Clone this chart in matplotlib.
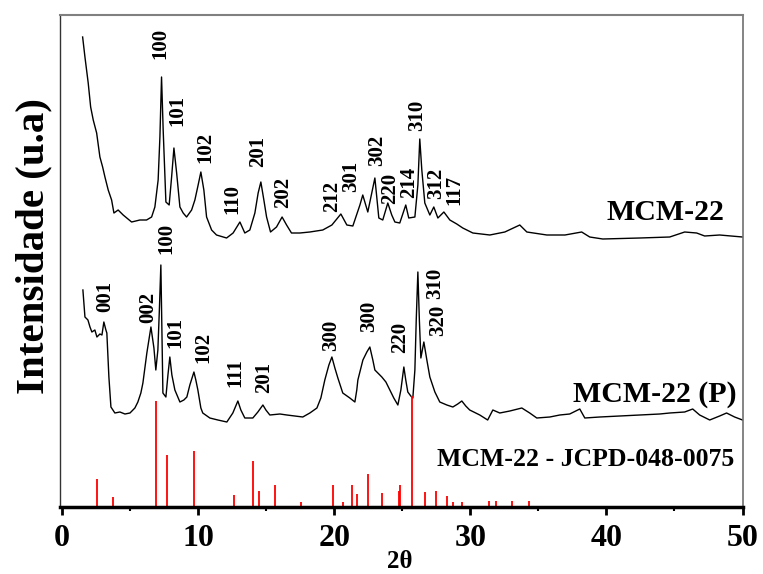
import matplotlib
matplotlib.use("Agg")
import matplotlib.pyplot as plt
from matplotlib.ticker import MultipleLocator

plt.rcParams['font.family'] = ['Liberation Serif', 'DejaVu Serif']
plt.rcParams['font.weight'] = 'bold'

# MCM-22 pattern (2theta, intensity a.u.)
top_2theta = [1.50, 1.67, 1.91, 2.09, 2.28, 2.53, 2.77, 2.97, 3.14, 3.38, 3.63, 3.80, 4.11, 4.48,
              5.10, 5.71, 6.20, 6.57, 6.81, 7.05, 7.18, 7.30, 7.42, 7.62, 7.86, 8.04, 8.21, 8.41,
              8.65, 8.89, 9.14, 9.51, 9.75, 9.99, 10.19, 10.41, 10.61, 10.98, 11.34, 12.08, 12.56,
              13.06, 13.42, 13.79, 14.16, 14.40, 14.60, 14.82, 15.02, 15.31, 15.75, 16.16, 16.49,
              16.85, 17.47, 18.20, 19.15, 19.82, 20.48, 20.92, 21.36, 21.88, 22.09, 22.46, 22.98,
              23.27, 23.56, 23.93, 24.22, 24.45, 24.81, 25.25, 25.47, 25.92, 26.14, 26.28, 26.43,
              26.65, 27.02, 27.31, 27.61, 28.05, 28.49, 29.00, 29.44, 30.18, 31.43, 32.53, 33.63,
              34.15, 35.62, 36.95, 38.18, 38.77, 39.73, 42.45, 44.65, 45.75, 46.63, 47.22, 48.32, 50.0]
top_int = [470, 450, 424, 400, 387, 374, 350, 340, 330, 317, 307, 294, 297, 292,
           285, 287, 287, 290, 300, 327, 370, 430, 377, 305, 302, 330, 359, 334,
           300, 294, 290, 297, 307, 322, 335, 317, 290, 277, 272, 269, 274,
           285, 274, 277, 294, 314, 325, 307, 290, 275, 280, 290, 282,
           274, 274, 275, 277, 282, 293, 282, 281, 302, 312, 295, 329,
           289, 287, 304, 292, 285, 284, 302, 289, 290, 322, 368, 337,
           304, 292, 300, 289, 295, 287, 283, 279, 274, 272, 275, 282,
           275, 272, 272, 275, 270, 268, 269, 270, 275, 274, 271, 272, 270]

# MCM-22 (P) pattern
bot_2theta = [1.52, 1.67, 1.89, 2.04, 2.18, 2.40, 2.55, 2.77, 2.92, 3.06, 3.21, 3.28, 3.43, 3.58,
              3.87, 4.24, 4.61, 4.98, 5.34, 5.56, 5.78, 5.93, 6.22, 6.52, 6.74, 6.88, 7.03, 7.14,
              7.25, 7.33, 7.40, 7.62, 7.77, 7.91, 8.06, 8.28, 8.65, 8.94, 9.16, 9.38, 9.68, 9.82,
              9.97, 10.19, 10.33, 10.85, 11.44, 12.10, 12.54, 12.91, 13.13, 13.42, 14.01, 14.38,
              14.75, 14.97, 15.26, 16.00, 16.51, 17.10, 17.68, 18.20, 18.72, 19.01, 19.30, 19.60,
              19.82, 20.04, 20.26, 20.62, 21.14, 21.51, 21.65, 21.73, 22.10, 22.39, 22.61, 22.83,
              22.98, 23.49, 23.79, 24.08, 24.37, 24.67, 24.89, 25.11, 25.25, 25.40, 25.62, 25.77,
              25.92, 26.02, 26.14, 26.25, 26.36, 26.58, 26.80, 27.02, 27.39, 27.75, 28.27, 28.71,
              29.07, 29.37, 29.66, 29.95, 30.69, 31.27, 31.65, 32.16, 32.90, 33.78, 34.36, 34.88,
              35.84, 36.57, 37.30, 38.04, 38.41, 39.51, 40.98, 42.45, 43.92, 44.65, 45.75, 46.34,
              46.85, 47.59, 48.32, 48.83, 49.42, 50.0]
bot_int = [217, 190, 187, 180, 175, 177, 170, 173, 172, 185, 177, 174, 130, 100,
           94, 95, 93, 94, 99, 105, 114, 124, 154, 180, 159, 137, 157, 197,
           242, 177, 114, 110, 132, 150, 132, 117, 105, 107, 110, 122, 135, 127,
           117, 99, 94, 89, 87, 85, 94, 106, 97, 89, 89, 95,
           102, 97, 92, 93, 92, 91, 90, 94, 99, 109, 127, 142,
           150, 139, 129, 114, 109, 105, 117, 127, 147, 155, 160, 147,
           137, 130, 125, 117, 109, 102, 117, 140, 127, 115, 111, 109,
           137, 187, 235, 187, 149, 165, 147, 130, 115, 105, 102, 100,
           103, 106, 101, 97, 92, 87, 97, 94, 96, 99, 94, 89,
           90, 92, 93, 98, 89, 90, 91, 92, 93, 94, 95, 98,
           92, 87, 91, 94, 90, 87]

# Reference JCPD-048-0075 sticks
ref_2theta = [2.55, 3.75, 6.88, 7.68, 9.72, 12.63, 14.05, 14.47, 15.64, 17.55, 19.92, 20.65,
              21.30, 21.66, 22.44, 23.49, 24.72, 24.85, 25.72, 26.65, 27.50, 28.27, 28.73,
              29.42, 31.35, 31.90, 33.09, 34.31]
ref_int = [28, 10, 106, 52, 56, 12, 46, 16, 22, 5, 22, 5,
           22, 13, 33, 14, 16, 22, 111, 15, 16, 11, 5,
           5, 6, 6, 6, 6]

# Peak labels (text, 2theta, height)
top_labels = ["100", "101", "102", "110", "201", "202", "212", "301", "302", "220", "214",
              "310", "312", "117"]
top_lab_x = [7.25, 8.50, 10.49, 12.47, 14.38, 16.22, 19.82, 21.21, 23.13, 24.10, 25.50,
             26.06, 27.46, 28.85]
top_lab_y = [464, 397, 360, 308, 356, 315, 311, 331, 357, 319, 325, 392, 324, 317]

bot_labels = ["001", "002", "100", "101", "102", "111", "201", "300", "300", "220", "310", "320"]
bot_lab_x = [3.14, 6.30, 7.62, 8.28, 10.41, 12.76, 14.82, 19.74, 22.53, 24.81, 27.39, 27.60]
bot_lab_y = [211, 200, 269, 175, 160, 134, 130, 172, 191, 170, 224, 187]

xticks = [0, 10, 20, 30, 40, 50]

fig = plt.figure(figsize=(7.63, 5.74), dpi=100)
W, H = 763, 574
ax = fig.add_axes([59.5 / W, (H - 507) / H, (742.5 - 59.5) / W, (507 - 15) / H])

ax.plot(top_2theta, top_int, color='black', lw=1.0)
ax.plot(bot_2theta, bot_int, color='black', lw=1.0)
ax.vlines(ref_2theta, 0, ref_int, colors='red', lw=1.3)

for t, x, y in zip(top_labels, top_lab_x, top_lab_y):
    ax.text(x, y, t, rotation=90, ha='center', va='center', fontsize=15, fontweight='bold')
for t, x, y in zip(bot_labels, bot_lab_x, bot_lab_y):
    ax.text(x, y, t, rotation=90, ha='center', va='center', fontsize=15, fontweight='bold')

ax.text(48.7, 294, "MCM-22", ha='right', va='center', fontsize=21.5, fontweight='bold')
ax.text(49.6, 112, "MCM-22 (P)", ha='right', va='center', fontsize=21.5, fontweight='bold')
ax.text(49.4, 47, "MCM-22 - JCPD-048-0075", ha='right', va='center', fontsize=18.5,
        fontweight='bold')

ax.set_xlim(-0.2, 50.0)
ax.set_ylim(0, 492)
ax.set_xticks(xticks)
ax.set_xticklabels([str(v) for v in xticks], fontsize=23, fontweight='bold')
ax.xaxis.set_minor_locator(MultipleLocator(5))
ax.tick_params(axis='x', which='major', direction='out', length=6, width=2, pad=6)
ax.tick_params(axis='x', which='minor', direction='out', length=3, width=1.5)
ax.set_yticks([])

ax.spines['bottom'].set_linewidth(2.5)
ax.spines['left'].set_linewidth(1.0)
ax.spines['left'].set_color('#333333')
ax.spines['top'].set_linewidth(1.5)
ax.spines['top'].set_color('#808080')
ax.spines['right'].set_linewidth(1.2)
ax.spines['right'].set_color('#707070')

ax.set_ylabel("Intensidade (u.a)", fontsize=29.5, fontweight='bold')
ax.yaxis.set_label_coords(-0.011, 0.53)
fig.text(400 / W, 1 - 562 / H, "2θ", ha='center', va='center', fontsize=18, fontweight='bold')

fig.savefig("out.png", dpi=100)
